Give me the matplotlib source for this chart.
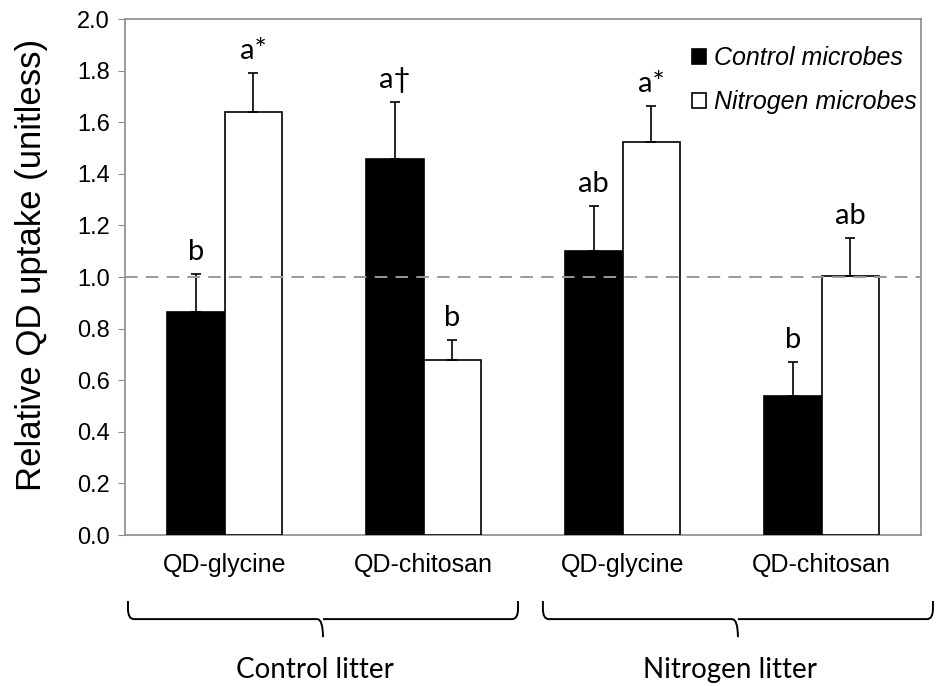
# QD uptake bar chart, control vs nitrogen microbes

import numpy as np
import matplotlib
matplotlib.use('Agg')
import matplotlib.pyplot as plt
from matplotlib.path import Path
from matplotlib.patches import PathPatch
import matplotlib.transforms as mtransforms

# Data
substrates = ['QD-glycine', 'QD-chitosan', 'QD-glycine', 'QD-chitosan']
litter = ['Control litter', 'Nitrogen litter']
control_mean = [0.866, 1.457, 1.100, 0.540]
control_se = [0.145, 0.223, 0.175, 0.132]
nitrogen_mean = [1.640, 0.678, 1.523, 1.003]
nitrogen_se = [0.150, 0.078, 0.141, 0.150]
control_letters = ['b', 'a\u2020', 'ab', 'b']
nitrogen_letters = ['a*', 'b', 'a*', 'ab']

plt.rcParams['font.family'] = ['Liberation Sans', 'DejaVu Sans']
calibri = ['Lato', 'DejaVu Sans']
grey = '#8c8c8c'

fig = plt.figure(figsize=(9.38, 6.86), dpi=100)
ax = fig.add_axes([125 / 938, 1 - 535 / 686, 796 / 938, 516 / 686])

x = np.arange(len(substrates))
w = 0.29
zeros = np.zeros(len(x))

b1 = ax.bar(x - w / 2, control_mean, w, color='black', edgecolor='black', linewidth=1.2,
            label='Control microbes', zorder=3)
b2 = ax.bar(x + w / 2, nitrogen_mean, w, color='white', edgecolor='black', linewidth=1.2,
            label='Nitrogen microbes', zorder=3)
ax.errorbar(x - w / 2, control_mean, yerr=[zeros, control_se], fmt='none', ecolor='black',
            elinewidth=1.2, capsize=3.6, capthick=1.2, zorder=4)
ax.errorbar(x + w / 2, nitrogen_mean, yerr=[zeros, nitrogen_se], fmt='none', ecolor='black',
            elinewidth=1.2, capsize=3.6, capthick=1.2, zorder=4)

# significance letters
for i in range(len(x)):
    ax.annotate(control_letters[i], (x[i] - w / 2, control_mean[i] + control_se[i]),
                xytext=(0, 10), textcoords='offset points', ha='center', va='baseline',
                fontsize=21, family=calibri)
    ax.annotate(nitrogen_letters[i], (x[i] + w / 2, nitrogen_mean[i] + nitrogen_se[i]),
                xytext=(0, 10), textcoords='offset points', ha='center', va='baseline',
                fontsize=21, family=calibri)

# reference line at 1
ax.axhline(1.0, color='#999999', linewidth=1.4, dashes=(6.5, 4.2), zorder=5)

ax.set_xlim(-0.5, 3.5)
ax.set_ylim(0, 2.0)
ax.set_yticks(np.arange(0, 2.01, 0.2))
ax.set_yticklabels(['%.1f' % v for v in np.arange(0, 2.01, 0.2)])
ax.set_xticks(x)
ax.set_xticklabels(substrates)
ax.tick_params(axis='x', length=0, pad=13, labelsize=18)
ax.tick_params(axis='y', length=5, color=grey, labelsize=17, pad=6)
for s in ax.spines.values():
    s.set_color(grey)
    s.set_linewidth(1.2)

ax.set_ylabel('Relative QD uptake (unitless)', fontsize=25)
ax.yaxis.set_label_coords(-0.097, 0.523)

leg = ax.legend(handles=[b1, b2], loc='upper left', bbox_to_anchor=(0.697, 0.972),
                frameon=False, prop={'style': 'italic', 'size': 18},
                handlelength=0.55, handleheight=0.55, handletextpad=0.3,
                labelspacing=0.82, borderpad=0)

# curly brackets under the groups
trans = mtransforms.blended_transform_factory(ax.transData, ax.transAxes)
brackets = [(-0.485, 1.475), (1.60, 3.56)]
y_top, y_mid, y_tip = -0.128, -0.163, -0.198
r = 0.03
for (x0, x1), name in zip(brackets, litter):
    xc = (x0 + x1) / 2
    verts = [(x0, y_top), (x0, y_mid + 0.02), (x0, y_mid), (x0 + r, y_mid),
             (xc - r, y_mid), (xc, y_mid), (xc, y_tip),
             (xc, y_mid), (xc + r, y_mid),
             (x1 - r, y_mid), (x1, y_mid), (x1, y_mid + 0.02), (x1, y_top)]
    codes = [Path.MOVETO, Path.LINETO, Path.CURVE3, Path.CURVE3,
             Path.LINETO, Path.CURVE3, Path.CURVE3,
             Path.MOVETO, Path.CURVE3,
             Path.LINETO, Path.CURVE3, Path.CURVE3, Path.LINETO]
    ax.add_patch(PathPatch(Path(verts, codes), transform=trans, fill=False,
                           edgecolor='black', linewidth=1.4, clip_on=False))
    ax.text(xc - 0.04, -0.262, name, transform=trans, ha='center', va='center',
            fontsize=20, family=calibri)

fig.savefig('out.png', dpi=100)
